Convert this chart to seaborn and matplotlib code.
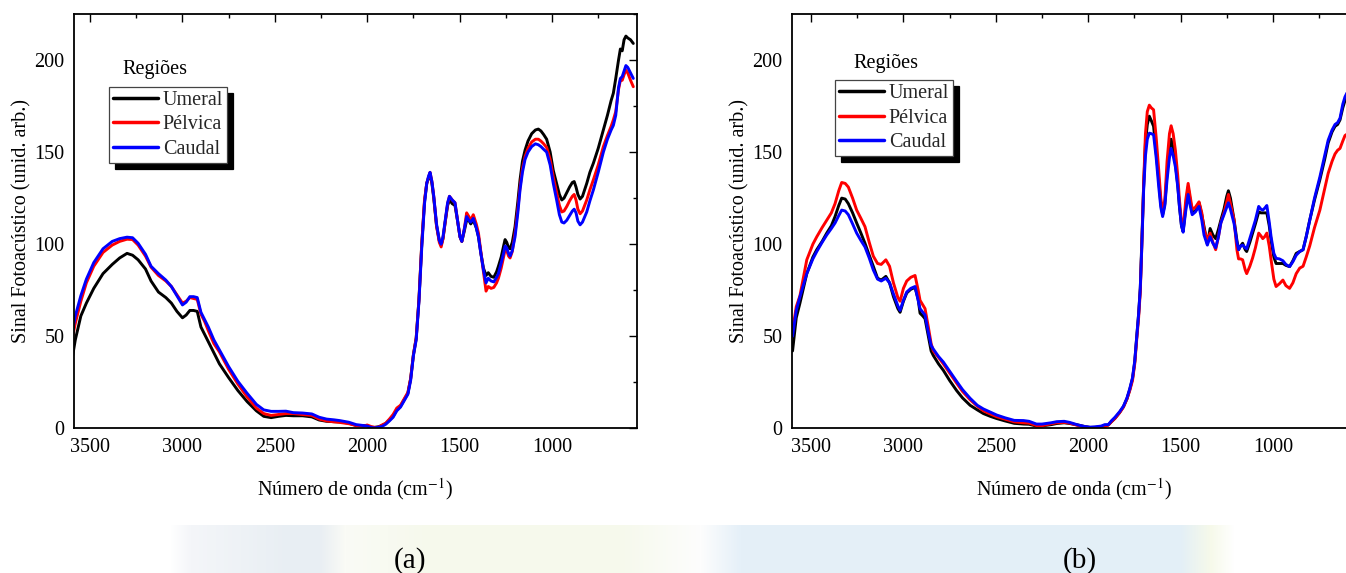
import numpy as np
import pandas as pd
import matplotlib
matplotlib.use('Agg')
import matplotlib.pyplot as plt
from matplotlib.ticker import MultipleLocator
from matplotlib.lines import Line2D
from matplotlib.colors import to_rgb
import seaborn as sns

# ---------------- data ----------------
regioes = ['Umeral', 'Pélvica', 'Caudal']
cores = ['#000000', '#FF0000', '#0000FF']

# panel (a)
wn_a = [3600, 3580, 3550, 3520, 3480, 3430, 3380, 3340, 3300, 3270, 3240, 3200, 3170, 3130, 3090, 3060,
        3030, 3000, 2980, 2960, 2940, 2920, 2900, 2880, 2860, 2830, 2800, 2750, 2700, 2650, 2600, 2560,
        2520, 2480, 2440, 2400, 2350, 2300, 2260, 2220, 2180, 2150, 2100, 2060, 2020, 2000, 1980, 1960,
        1940, 1920, 1900, 1880, 1860, 1840, 1820, 1800, 1780, 1765, 1750, 1735, 1720, 1705, 1690, 1678,
        1668, 1660, 1650, 1640, 1625, 1610, 1600, 1590, 1578, 1565, 1555, 1540, 1525, 1510, 1498, 1488,
        1475, 1462, 1450, 1440, 1426, 1410, 1398, 1385, 1371, 1357, 1345, 1330, 1315, 1300, 1290, 1275,
        1262, 1254, 1245, 1235, 1227, 1215, 1200, 1185, 1173, 1160, 1146, 1130, 1110, 1090, 1074, 1060,
        1045, 1029, 1010, 993, 975, 960, 947, 935, 920, 905, 890, 880, 870, 860, 848, 835, 812, 795,
        776, 750, 722, 700, 680, 668, 655, 640, 630, 620, 610, 600, 590, 575, 560]
umeral_a = [36, 48, 61, 68, 76, 84, 89, 92.5, 95, 94, 91.5, 86.5, 80, 74, 71, 68,
            63.5, 60, 61.5, 64, 64, 63.5, 55, 51, 47, 41, 35, 27.5, 20.5, 14.5, 9.5, 6.5,
            5.8, 6.5, 7, 6.8, 6.8, 6.2, 4.5, 3.8, 3.6, 3.5, 2.8, 1.5, 1.5, 1.5, 0.5, 0.5,
            0.8, 1.5, 2.5, 4.5, 6.5, 10, 12, 15.5, 19, 27, 40, 49, 70, 100, 123, 133,
            136, 138, 133, 125, 110, 102, 99.5, 103, 112, 121, 124, 122, 121, 112, 104, 101.5,
            107, 113, 113, 111, 113, 109, 104, 95, 87, 83, 84.5, 82.5, 82, 85, 88, 93,
            99, 102.5, 101, 98, 97.5, 101, 109.5, 123, 135, 145, 151, 156, 160, 162, 162.5, 161.5,
            159.5, 157, 150, 140, 133, 127, 124, 125, 128, 131, 133.5, 134, 131, 127, 124.5, 126, 133, 139,
            144, 152, 162, 170, 178, 182, 190, 200, 206, 205, 211, 213, 212, 211, 209]
pelvica_a = [47, 57, 69, 79, 88, 95.5, 99.5, 101.5, 102.7, 102.5, 99.5, 93.5, 87.5, 83, 80, 77,
             72.5, 68, 69, 71, 70.5, 70, 62, 58, 53, 46, 41.5, 32, 24, 17, 11, 8,
             7, 7.5, 8, 8, 7.5, 7, 5, 4, 3.5, 3.2, 2.5, 1.5, 1.2, 1.8, 1, 0.5,
             0.6, 1.8, 2.8, 5, 7.5, 11, 12.5, 16, 19.5, 27, 40, 49, 70, 100, 124, 133,
             136.5, 139, 134, 126, 110, 101, 98.5, 103, 112, 122, 126, 124, 122.5, 112, 104, 101.5,
             108, 117, 115, 113, 116, 111, 106, 96, 85, 74.5, 77, 76, 76.5, 79, 81.5, 87,
             93, 97, 96.5, 93.5, 92.5, 96, 106, 119, 131, 141, 147.5, 152, 155.5, 157, 157, 156,
             154.5, 152.5, 146, 136.5, 128, 121, 117.5, 118, 120.5, 123.5, 126, 127, 124, 119, 116.5, 118, 124, 129.5,
             135, 143, 153, 159, 164, 167.5, 172, 184, 189, 189, 192, 194.5, 193, 189, 185.5]
caudal_a = [50, 61, 72, 81, 90, 97.5, 101.5, 103, 103.8, 103.5, 100.5, 94.5, 88, 84, 80.5, 77,
            72, 67, 68.5, 71.5, 71.5, 71, 63, 59, 55, 48, 42.5, 33.5, 25.5, 19, 13, 10,
            9.2, 9.2, 9.3, 8.5, 8.3, 7.8, 6, 5, 4.6, 4.2, 3.3, 2.0, 1.5, 1.2, 0.5, 0.2,
            0.6, 1.0, 2.2, 4, 6, 9.5, 11.5, 15, 18.5, 26, 39.5, 48, 69, 98, 122, 133,
            137, 139, 134, 126, 111, 102, 100, 104, 113, 122.5, 126, 124, 122.5, 112, 104, 101.5,
            108, 115, 113, 112, 114, 109, 104, 95, 86, 79, 81.5, 80, 79.5, 82, 84, 90,
            95, 99, 98, 95, 93.5, 96.5, 104, 117, 129.5, 139, 146, 150, 153, 154.5, 154, 153,
            151.5, 150, 143, 133, 124, 116, 112, 111.5, 113, 115.5, 118, 119, 117, 112.5, 110.5, 112, 117.5, 123.5,
            129.5, 139, 150, 157, 162, 164.5, 170, 185, 190, 191, 194, 197, 196, 193, 190]

# panel (b)
wn_b = [3600, 3580, 3560, 3523, 3490, 3469, 3440, 3415, 3390, 3370, 3350, 3334, 3315, 3298, 3275, 3253,
        3230, 3208, 3185, 3163, 3140, 3120, 3095, 3075, 3054, 3030, 3018, 3000, 2982, 2960, 2937, 2920,
        2910, 2895, 2883, 2865, 2850, 2838, 2810, 2784, 2750, 2712, 2680, 2639, 2600, 2567, 2530, 2495,
        2450, 2400, 2350, 2320, 2280, 2250, 2200, 2170, 2130, 2100, 2055, 2020, 1990, 1964, 1930, 1910,
        1891, 1875, 1855, 1830, 1809, 1790, 1775, 1760, 1748, 1737, 1727, 1718, 1710, 1700, 1690, 1680,
        1669, 1658, 1646, 1632, 1618, 1607, 1597, 1585, 1573, 1560, 1551, 1540, 1528, 1515, 1506, 1495,
        1486, 1472, 1459, 1448, 1437, 1420, 1400, 1385, 1373, 1355, 1340, 1325, 1310, 1295, 1282, 1265,
        1250, 1241, 1230, 1210, 1195, 1186, 1175, 1164, 1150, 1142, 1125, 1110, 1095, 1077, 1065, 1055,
        1045, 1033, 1020, 1010, 995, 983, 965, 946, 930, 910, 892, 874, 855, 837, 820, 801,
        775, 746, 720, 701, 680, 664, 650, 637, 622, 610, 595, 580, 560]
umeral_b = [42, 60, 68, 84, 93, 97, 101.5, 106, 110, 115, 121, 125, 124.5, 122, 117, 111.5,
            106, 100.5, 94, 88, 81.5, 80.5, 82.5, 79, 71.5, 65, 63, 69, 73.5, 75.5, 76.5, 70,
            62.5, 61, 59.5, 50, 42, 39.5, 35, 31.5, 26, 20.5, 16.5, 12.5, 10, 8, 6.5, 5.3,
            4, 2.7, 2.3, 2.2, 1.2, 1.3, 2, 2.6, 3, 2.6, 1.8, 1, 0.5, 0.5, 0.8, 1.5,
            1.8, 3.5, 5.4, 8.5, 11.8, 16, 21, 27, 36, 50, 62, 76, 100, 131, 155, 165,
            169.5, 167, 164, 150, 135, 122, 116, 122, 138.5, 152, 157, 152, 144, 132, 120.5, 110,
            107, 120, 131, 124, 117, 118, 122.5, 116, 109.5, 100, 108.5, 105, 103, 108, 113, 119,
            126, 129, 125, 113, 102, 97, 99, 100.5, 97, 96, 101, 106, 111, 117.5, 117, 117,
            117, 117, 110, 102, 93, 89.5, 89.5, 89.5, 88.5, 87.8, 91, 95, 96, 97, 104, 113,
            124, 135, 146, 155, 161, 164, 165, 167.5, 174, 178, 181, 184, 186]
pelvica_b = [53, 66, 72, 91.5, 100, 104, 109, 113, 117, 122, 129, 133.5, 133, 131, 125, 118.5,
             114, 109.5, 101, 93.5, 89.5, 89, 91.5, 88, 79, 71, 69, 76, 80, 82, 83, 75,
             69.5, 67, 65, 55, 46, 42, 38.5, 35, 30, 24.5, 20, 15.5, 12, 9.5, 7.8, 6.3,
             5, 3.5, 3, 2.8, 1.5, 1.4, 2.5, 3, 3.2, 2.8, 1.5, 0.8, 0.3, 0.3, 1, 1,
             1.8, 3.5, 5.4, 8.5, 11.5, 16, 20.5, 26, 35, 48.5, 60, 74, 98, 132, 160, 172,
             175.5, 174, 173, 158, 140, 125, 118, 124, 145, 160, 164.3, 160, 151, 137, 124, 112,
             107.5, 124, 133, 126, 119, 120, 123, 117, 108, 102, 106, 101, 97, 104, 111.5, 117,
             123, 127, 122, 113, 97, 92, 92, 91.5, 86, 84, 88, 92.5, 98, 106, 104.5, 103,
             104, 106, 99, 91.5, 81, 77, 78.5, 80.5, 77.5, 76, 79, 84, 87, 88, 93, 99,
             109, 118.5, 130, 138.5, 145, 149, 151, 152, 156, 159, 160, 160.5, 161]
caudal_b = [50, 64, 71.5, 84, 92, 96, 101, 105, 108.5, 111.5, 115.5, 118.5, 118, 116, 111, 106,
            102, 98.5, 92.5, 86, 81, 80, 81.5, 79, 73, 66.5, 64, 69.5, 74, 76, 77, 69.5,
            65, 63, 61.5, 52, 45, 43, 39, 36, 31, 25.5, 21, 16.3, 12.5, 10.5, 8.8, 7.2,
            5.7, 4.3, 4.2, 3.8, 2.3, 2.3, 3, 3.6, 3.8, 3.2, 1.8, 1, 0.6, 0.8, 1.2, 2,
            2, 4, 6, 9, 12, 16.5, 21.5, 27.5, 36.5, 50, 62, 76, 98, 129, 148, 157,
            160.3, 160, 159.4, 147, 131, 120, 115, 121, 135, 147, 152, 148, 142, 131, 120.5, 110,
            106.5, 118, 127, 121, 116, 117.5, 120.5, 113, 105, 99.5, 104, 100.5, 98, 104, 111.5, 116,
            120, 122.5, 119, 111, 101, 97, 99, 99.5, 98, 97.5, 103, 108, 113, 120.5, 119, 118.5,
            119.5, 121, 112, 104, 95, 92.3, 92, 91, 89, 87.8, 90.5, 94, 96, 97, 104, 113,
            125, 136.5, 148, 156.5, 162, 165, 166, 168.4, 176, 180, 183, 186, 188]

# ---------------- style ----------------
sns.set_theme(style='white')
plt.rcParams['font.family'] = ['Liberation Serif', 'DejaVu Serif']
plt.rcParams['mathtext.fontset'] = 'stix'

W, H = 1346, 573
fig = plt.figure(figsize=(W / 100, H / 100), dpi=100)
fig.patch.set_facecolor('white')

# faint background band at the bottom (page watermark)
bg = fig.add_axes([170 / W, 0, 1064 / W, 48 / H], zorder=-5)
stops_x = [0, 20, 120, 150, 175, 260, 450, 530, 570, 1010, 1040, 1064]
stops_c = ['#FFFFFF', '#F4F6F9', '#E8EEF3', '#E9EEF3', '#FAFBF6', '#F6F9EC', '#F6F9EC', '#FDFDFD',
           '#E5F0F8', '#E3EFF7', '#F6F9EA', '#FFFFFF']
xs = np.arange(1064)
rgb = np.array([to_rgb(c) for c in stops_c])
grad = np.stack([np.interp(xs, stops_x, rgb[:, k]) for k in range(3)], axis=-1)[None, :, :]
bg.imshow(grad, aspect='auto', extent=[0, 1064, 0, 1])
bg.axis('off')

ax_a = fig.add_axes([74 / W, 1 - 428.3 / H, 563 / W, 414.3 / H])
ax_b = fig.add_axes([792 / W, 1 - 428.3 / H, 565 / W, 414.3 / H])


def long_df(wn, series):
    frames = []
    for name, vals in zip(regioes, series):
        frames.append(pd.DataFrame({'wn': wn, 'sinal': vals, 'regiao': name}))
    return pd.concat(frames, ignore_index=True)


df_a = long_df(wn_a, [umeral_a, pelvica_a, caudal_a])
df_b = long_df(wn_b, [umeral_b, pelvica_b, caudal_b])


def draw(ax, df, xlim, leg_pos, title_pos):
    sns.lineplot(data=df, x='wn', y='sinal', hue='regiao', hue_order=regioes,
                 palette=cores, estimator=None, linewidth=2.1, legend=False, ax=ax)
    ax.set_xlim(*xlim)
    ax.set_ylim(0, 225)
    ax.xaxis.set_major_locator(MultipleLocator(500))
    ax.xaxis.set_minor_locator(MultipleLocator(250))
    ax.yaxis.set_major_locator(MultipleLocator(50))
    ax.yaxis.set_minor_locator(MultipleLocator(25))
    ax.tick_params(which='both', direction='in', top=True, right=True, width=1.0,
                   color='black', labelcolor='black', labelsize=14.5)
    ax.tick_params(which='major', length=5.5, pad=7)
    ax.tick_params(which='minor', length=3)
    for s in ax.spines.values():
        s.set_color('black')
        s.set_linewidth(1.3)
    ax.set_xlabel('Número de onda (cm$^{-1}$)', fontsize=14.5, labelpad=14, color='black')
    ax.set_ylabel('Sinal Fotoacústico (unid. arb.)', fontsize=14.5, labelpad=2, color='black')
    handles = [Line2D([], [], color=c, lw=2.5) for c in cores]
    leg = ax.legend(handles, regioes, loc='upper left', bbox_to_anchor=leg_pos,
                    borderaxespad=0, fontsize=14.5, frameon=True, fancybox=False,
                    handlelength=2.2, handletextpad=0.25, labelspacing=0.27,
                    borderpad=0.2,
                    shadow={'ox': 4.3, 'oy': -4.3, 'color': 'black', 'alpha': 1})
    fr = leg.get_frame()
    fr.set_edgecolor('#444444')
    fr.set_linewidth(0.9)
    fr.set_facecolor('white')
    fr.set_alpha(1)
    ax.text(title_pos[0], title_pos[1], 'Regiões', transform=ax.transAxes,
            ha='center', va='center', fontsize=14.5, color='black')


draw(ax_a, df_a, (3587, 540), (0.0627, 0.8245), (0.144, 0.865))
draw(ax_b, df_b, (3603, 545), (0.0766, 0.8407), (0.1664, 0.881))

fig.text(410 / W, 1 - 561 / H, '(a)', ha='center', va='center', fontsize=21, color='black')
fig.text(1080 / W, 1 - 561 / H, '(b)', ha='center', va='center', fontsize=21, color='black')

fig.savefig('out.png', dpi=100, facecolor='white')
